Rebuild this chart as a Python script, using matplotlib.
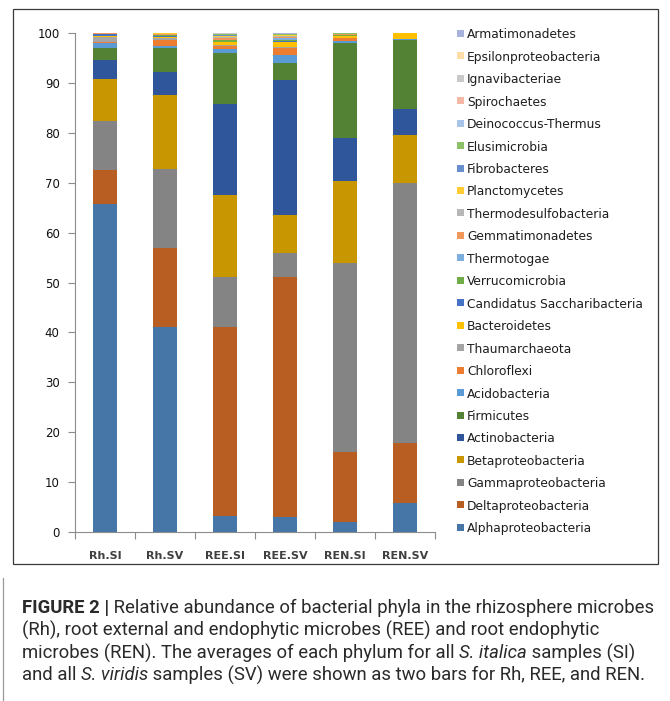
import matplotlib
matplotlib.use("Agg")
import matplotlib.pyplot as plt
from matplotlib.patches import Rectangle
from matplotlib.lines import Line2D
import numpy as np

samples = ["Rh.SI", "Rh.SV", "REE.SI", "REE.SV", "REN.SI", "REN.SV"]

phyla = ["Alphaproteobacteria", "Deltaproteobacteria", "Gammaproteobacteria",
         "Betaproteobacteria", "Actinobacteria", "Firmicutes", "Acidobacteria",
         "Chloroflexi", "Thaumarchaeota", "Bacteroidetes",
         "Candidatus Saccharibacteria", "Verrucomicrobia", "Thermotogae",
         "Gemmatimonadetes", "Thermodesulfobacteria", "Planctomycetes",
         "Fibrobacteres", "Elusimicrobia", "Deinococcus-Thermus", "Spirochaetes",
         "Ignavibacteriae", "Epsilonproteobacteria", "Armatimonadetes"]

alpha = [65.8, 41.0, 3.3, 3.0, 2.1, 5.8]
delta = [6.8, 15.9, 37.7, 48.2, 14.0, 12.0]
gamma = [9.8, 15.8, 10.2, 4.8, 37.8, 52.2]
beta = [8.3, 14.9, 16.3, 7.6, 16.4, 9.6]
actino = [3.8, 4.5, 18.3, 27.0, 8.7, 5.1]
firmicutes = [2.4, 4.8, 10.1, 3.3, 19.0, 13.8]
acido = [1.0, 0.4, 0.8, 1.6, 0.3, 0.3]
chloroflexi = [0.2, 1.2, 0.7, 1.5, 0.6, 0.0]
thaum = [1.1, 0.4, 0.1, 0.1, 0.1, 0.0]
bacteroidetes = [0.1, 0.3, 0.6, 1.0, 0.3, 1.2]
candidatus = [0.4, 0.2, 0.1, 0.2, 0.0, 0.0]
verruco = [0.05, 0.1, 0.3, 0.3, 0.3, 0.0]
thermotogae = [0.1, 0.1, 0.1, 0.3, 0.0, 0.0]
gemmati = [0.1, 0.2, 0.3, 0.2, 0.1, 0.0]
thermodesulfo = [0.0, 0.05, 0.3, 0.2, 0.05, 0.0]
plancto = [0.0, 0.05, 0.2, 0.2, 0.1, 0.0]
fibro = [0.0, 0.0, 0.1, 0.1, 0.0, 0.0]
elusimicrobia = [0.0, 0.0, 0.2, 0.1, 0.05, 0.0]
deinococcus = [0.0, 0.05, 0.05, 0.05, 0.0, 0.0]
spiro = [0.05, 0.05, 0.1, 0.05, 0.05, 0.0]
ignavi = [0.0, 0.0, 0.05, 0.05, 0.0, 0.0]
epsilon = [0.0, 0.0, 0.1, 0.0, 0.05, 0.0]
armati = [0.0, 0.0, 0.0, 0.15, 0.0, 0.0]

series = [alpha, delta, gamma, beta, actino, firmicutes, acido, chloroflexi,
          thaum, bacteroidetes, candidatus, verruco, thermotogae, gemmati,
          thermodesulfo, plancto, fibro, elusimicrobia, deinococcus, spiro,
          ignavi, epsilon, armati]

colors = ["#4675A7", "#B95E23", "#848484", "#C89600", "#2F559A", "#548235",
          "#5B9BD5", "#ED7D31", "#A5A5A5", "#FFC000", "#4472C4", "#70AD47",
          "#7CAFDD", "#F1975A", "#B7B7B7", "#FFCD33", "#698ED0", "#8CC168",
          "#A9C4EB", "#F4B9A6", "#C9C9C9", "#FFDDA6", "#A6B2DC"]

W, H = 670, 701
fig = plt.figure(figsize=(W / 100, H / 100), dpi=100)

def fx(px):
    return px / W

def fy(py):
    return 1 - py / H

ax = fig.add_axes([fx(75), fy(532), fx(435) - fx(75), fy(33) - fy(532)])
x = np.arange(len(samples))
bottom = np.zeros(len(samples))
for vals, col in zip(series, colors):
    v = np.array(vals)
    ax.bar(x, v, 0.385, bottom=bottom, color=col, edgecolor="none", linewidth=0)
    bottom += v

ax.set_xlim(-0.5, len(samples) - 0.5)
ax.set_ylim(0, 100)
ax.set_yticks(np.arange(0, 101, 10))
ax.set_xticks(x)
ax.set_xticklabels(samples, fontsize=8, fontweight="bold", color="#404040",
                   family="DejaVu Sans")
ax.set_xticks(np.arange(-0.5, len(samples), 1.0), minor=True)
ax.tick_params(axis="x", which="major", length=0, pad=14)
ax.tick_params(axis="x", which="minor", length=5, color="#8c8c8c", width=0.8)
ax.tick_params(axis="y", length=5, color="#8c8c8c", width=0.8, labelsize=8.5,
               labelcolor="#111111", pad=6)
for s in ["top", "right"]:
    ax.spines[s].set_visible(False)
for s in ["left", "bottom"]:
    ax.spines[s].set_color("#8c8c8c")
    ax.spines[s].set_linewidth(0.8)

# legend (reversed order, top to bottom)
n = len(phyla)
y0, y1 = 33.3, 527.3
step = (y1 - y0) / (n - 1)
for i, (name, col) in enumerate(zip(phyla[::-1], colors[::-1])):
    yc = y0 + i * step
    fig.patches.append(Rectangle((fx(457), fy(yc + 3.5)), fx(7), fy(yc - 3.5) - fy(yc + 3.5),
                                 transform=fig.transFigure, facecolor=col,
                                 edgecolor="none"))
    fig.text(fx(467), fy(yc), name, fontsize=8.8, color="#1e1e1e",
             va="center_baseline", ha="left", family="DejaVu Sans")

# chart frame
fig.patches.append(Rectangle((fx(13), fy(564)), fx(658) - fx(13), fy(9) - fy(564),
                             transform=fig.transFigure, facecolor="none",
                             edgecolor="#3a3a3a", linewidth=0.9))
fig.lines.append(Line2D([fx(3), fx(3)], [fy(578), fy(701)], transform=fig.transFigure,
                        color="#9a9a9a", linewidth=0.9))

# caption
caption = [
    [("FIGURE 2 |", "bold", "normal"),
     (" Relative abundance of bacterial phyla in the rhizosphere microbes", "normal", "normal")],
    [("(Rh), root external and endophytic microbes (REE) and root endophytic", "normal", "normal")],
    [("microbes (REN). The averages of each phylum for all ", "normal", "normal"),
     ("S. italica", "normal", "italic"), (" samples (SI)", "normal", "normal")],
    [("and all ", "normal", "normal"), ("S. viridis", "normal", "italic"),
     (" samples (SV) were shown as two bars for Rh, REE, and REN.", "normal", "normal")],
]
fig.canvas.draw()
renderer = fig.canvas.get_renderer()
line_y = [606, 628.5, 651, 673.5]
for runs, yc in zip(caption, line_y):
    xp = 22.0
    for txt, wt, st in runs:
        t = fig.text(fx(xp), fy(yc), txt, fontsize=13.35, family="Roboto",
                     fontweight=wt, fontstyle=st, color="#2a2a2a",
                     va="center_baseline", ha="left")
        bb = t.get_window_extent(renderer)
        xp += bb.width

fig.savefig("out.png", dpi=100)
